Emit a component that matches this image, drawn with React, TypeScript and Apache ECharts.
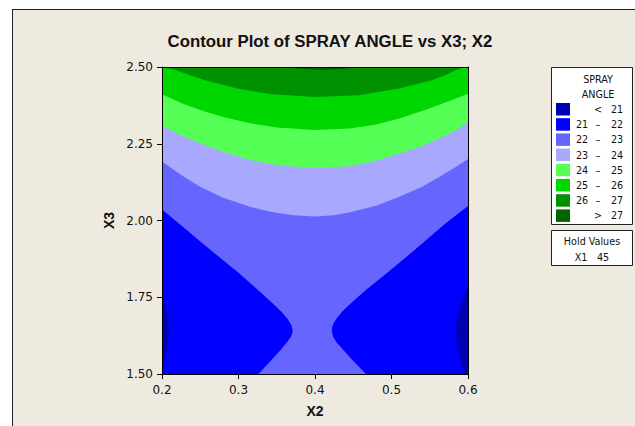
import React, { useEffect, useRef } from "react";
import * as echarts from "echarts";

// ---- axes ----
const xRange = [0.2, 0.6];
const yRange = [1.5, 2.5];
const xInterval = 0.1;
const yInterval = 0.25;

// ---- legend ----
const legendTitle = ["SPRAY", "ANGLE"];
const bandLow = ["<", "21", "22", "23", "24", "25", "26", ">"];
const bandHigh = ["21", "22", "23", "24", "25", "26", "27", "27"];
const bandColors = ["#0000B4", "#0000FF", "#6666FF", "#A8A8FF", "#55FF55", "#00D700", "#009100", "#006400"];
const holdLabel = "Hold Values";
const holdName = "X1";
const holdValue = "45";

// ---- contour lines: [X2, X3] ----
const c21Left = [
  [0.2, 1.763], [0.2035, 1.735], [0.2061, 1.698], [0.2085, 1.665], [0.2092, 1.643],
  [0.2085, 1.615], [0.2061, 1.578], [0.2035, 1.545], [0.201, 1.513], [0.2, 1.505],
];
const c21Right = [
  [0.596, 1.5], [0.5915, 1.535], [0.5873, 1.567], [0.585, 1.605], [0.5843, 1.643],
  [0.5855, 1.68], [0.5895, 1.719], [0.594, 1.75], [0.6, 1.784],
];
const c22Left = [
  [0.326, 1.5], [0.341, 1.54], [0.355, 1.578], [0.364, 1.605], [0.369, 1.623], [0.371, 1.64],
  [0.369, 1.66], [0.364, 1.68], [0.357, 1.7], [0.347, 1.725], [0.324, 1.777], [0.3, 1.83],
  [0.2715, 1.888], [0.25, 1.932], [0.228, 1.978], [0.2, 2.036],
];
const c22Right = [
  [0.6, 2.047], [0.5705, 1.99], [0.5416, 1.928], [0.515, 1.872], [0.4893, 1.819], [0.468, 1.777],
  [0.4458, 1.728], [0.436, 1.704], [0.4285, 1.682], [0.4235, 1.662], [0.4218, 1.643],
  [0.4235, 1.623], [0.4275, 1.605], [0.437, 1.578], [0.451, 1.54], [0.4667, 1.5],
];
const c23 = [
  [0.2, 2.192], [0.225, 2.148], [0.2497, 2.11], [0.28, 2.074], [0.315, 2.045], [0.345, 2.027],
  [0.3716, 2.017], [0.4, 2.013], [0.425, 2.017], [0.4458, 2.027], [0.48, 2.048], [0.511, 2.078],
  [0.54, 2.11], [0.5634, 2.143], [0.585, 2.176], [0.6, 2.2],
];
const c24 = [
  [0.2, 2.309], [0.225, 2.278], [0.2497, 2.2515], [0.28, 2.224], [0.315, 2.197], [0.35, 2.181],
  [0.3847, 2.173], [0.415, 2.172], [0.4458, 2.1775], [0.48, 2.195], [0.511, 2.219], [0.54, 2.243],
  [0.5634, 2.268], [0.585, 2.295], [0.6, 2.319],
];
const c25 = [
  [0.2, 2.411], [0.225, 2.383], [0.2497, 2.36], [0.28, 2.337], [0.315, 2.3166], [0.35, 2.303],
  [0.4, 2.295], [0.4458, 2.3], [0.48, 2.313], [0.511, 2.333], [0.5438, 2.36], [0.5634, 2.378],
  [0.585, 2.398], [0.6, 2.413],
];
const c26 = [
  [0.2, 2.5], [0.215, 2.493], [0.235, 2.475], [0.2562, 2.4567], [0.2997, 2.429], [0.3434, 2.411],
  [0.4, 2.402], [0.4566, 2.408], [0.5089, 2.429], [0.5525, 2.4567], [0.572, 2.475], [0.583, 2.489],
  [0.596, 2.5],
];
const c27 = [[0.362, 2.5], [0.38, 2.494], [0.41, 2.49], [0.44, 2.494], [0.458, 2.5]];

export default function App() {
  const ref = useRef<HTMLDivElement>(null);

  useEffect(() => {
    document.body.style.margin = "0";
    if (!ref.current) return;
    const chart = echarts.init(ref.current, null, { renderer: "svg" });

    const [x0, x1] = xRange;
    const [y0, y1] = yRange;
    const regions = [
      [[x0, y0], [x1, y0], [x1, y1], [x0, y1]],
      [[x0, y0], ...c21Right, [x1, y1], [x0, y1], ...c21Left],
      [...c22Left, [x0, y1], [x1, y1], ...c22Right],
      [...c23, [x1, y1], [x0, y1]],
      [...c24, [x1, y1], [x0, y1]],
      [...c25, [x1, y1], [x0, y1]],
      [...c26],
      [...c27],
    ];

    const font = (size: number, weight = "normal", fam = '"DejaVu Sans Condensed", "Liberation Sans", sans-serif') =>
      `${weight} ${size}px ${fam}`;
    const txt = (text: string, x: number, y: number, f: string, align = "center") => ({
      type: "text",
      x,
      y,
      z: 100,
      silent: true,
      style: {
        text,
        font: f,
        fill: "#111",
        textAlign: align,
        textVerticalAlign: "middle",
        align,
        verticalAlign: "middle",
      },
    });

    const legendFont = font(10.7);
    const graphics: any[] = [
      txt("Contour Plot of SPRAY ANGLE vs X3; X2", 330, 41, font(16.8, "bold", '"Liberation Sans", Arial, sans-serif')),
      {
        type: "rect",
        z: 90,
        silent: true,
        shape: { x: 551.5, y: 67.5, width: 81, height: 157 },
        style: { fill: "#fff", stroke: "#222", lineWidth: 1 },
      },
      txt(legendTitle[0], 598, 79, legendFont),
      txt(legendTitle[1], 598, 94, legendFont),
      {
        type: "rect",
        z: 90,
        silent: true,
        shape: { x: 551.5, y: 230.5, width: 81, height: 35 },
        style: { fill: "#fff", stroke: "#222", lineWidth: 1 },
      },
      txt(holdLabel, 592, 241, legendFont),
      txt(holdName, 581, 257, legendFont),
      txt(holdValue, 603, 257, legendFont),
    ];
    bandColors.forEach((c, i) => {
      const top = 103 + i * 15.2;
      const cy = top + 6.5;
      graphics.push({
        type: "rect",
        z: 95,
        silent: true,
        shape: { x: 556, y: top, width: 14, height: 12.5 },
        style: { fill: c },
      });
      const low = bandLow[i];
      if (low === "<" || low === ">") {
        graphics.push(txt(low, 598, cy, legendFont));
      } else {
        graphics.push(txt(low, 582, cy, legendFont));
        graphics.push(txt("\u2013", 598, cy, legendFont));
      }
      graphics.push(txt(bandHigh[i], 617, cy, legendFont));
    });

    const tickFont = { fontFamily: "DejaVu Sans", fontSize: 12, color: "#111" };
    const nameFont = { fontFamily: "Liberation Sans", fontSize: 14, fontWeight: "bold", color: "#111" };

    chart.setOption({
      animation: false,
      backgroundColor: "transparent",
      grid: { left: 162, top: 67, width: 306, height: 307, containLabel: false },
      xAxis: [
        {
          type: "value",
          min: x0,
          max: x1,
          interval: xInterval,
          position: "bottom",
          name: "X2",
          nameLocation: "middle",
          nameGap: 30,
          nameTextStyle: nameFont,
          axisLine: { show: true, onZero: false, lineStyle: { color: "#000", width: 1 } },
          axisTick: { show: true, length: 5, lineStyle: { color: "#000" } },
          axisLabel: { ...tickFont, margin: 10, formatter: (v: number) => v.toFixed(1) },
          splitLine: { show: false },
          z: 10,
        },
        {
          type: "value",
          min: x0,
          max: x1,
          interval: xInterval,
          position: "top",
          axisLine: { show: true, onZero: false, lineStyle: { color: "#000", width: 1 } },
          axisTick: { show: false },
          axisLabel: { show: false },
          splitLine: { show: false },
          z: 10,
        },
      ],
      yAxis: [
        {
          type: "value",
          min: y0,
          max: y1,
          interval: yInterval,
          position: "left",
          name: "X3",
          nameLocation: "middle",
          nameGap: 46,
          nameTextStyle: nameFont,
          axisLine: { show: true, onZero: false, lineStyle: { color: "#000", width: 1 } },
          axisTick: { show: true, length: 5, lineStyle: { color: "#000" } },
          axisLabel: { ...tickFont, margin: 9, formatter: (v: number) => v.toFixed(2) },
          splitLine: { show: false },
          z: 10,
        },
        {
          type: "value",
          min: y0,
          max: y1,
          interval: yInterval,
          position: "right",
          axisLine: { show: true, onZero: false, lineStyle: { color: "#000", width: 1 } },
          axisTick: { show: false },
          axisLabel: { show: false },
          splitLine: { show: false },
          z: 10,
        },
      ],
      series: [
        {
          type: "custom",
          clip: true,
          xAxisIndex: 0,
          yAxisIndex: 0,
          data: regions.map((_, i) => [0.4, 2.0, i]),
          encode: { x: 0, y: 1 },
          renderItem: (params: any, api: any) => {
            const poly = regions[params.dataIndex];
            const points = poly.map((p) => api.coord(p));
            return {
              type: "polygon",
              shape: { points },
              style: { fill: bandColors[params.dataIndex], stroke: null },
            };
          },
        },
      ],
      graphic: graphics,
    });

    return () => chart.dispose();
  }, []);

  return (
    <div style={{ position: "relative", width: 635, height: 426, overflow: "hidden", background: "#fff" }}>
      <div
        style={{
          position: "absolute",
          left: 12,
          top: 9,
          width: 700,
          height: 500,
          background: "#EEEAE0",
          borderLeft: "1px solid #222",
          borderTop: "1px solid #222",
        }}
      />
      <div ref={ref} style={{ position: "absolute", left: 0, top: 0, width: 635, height: 426 }} />
    </div>
  );
}
